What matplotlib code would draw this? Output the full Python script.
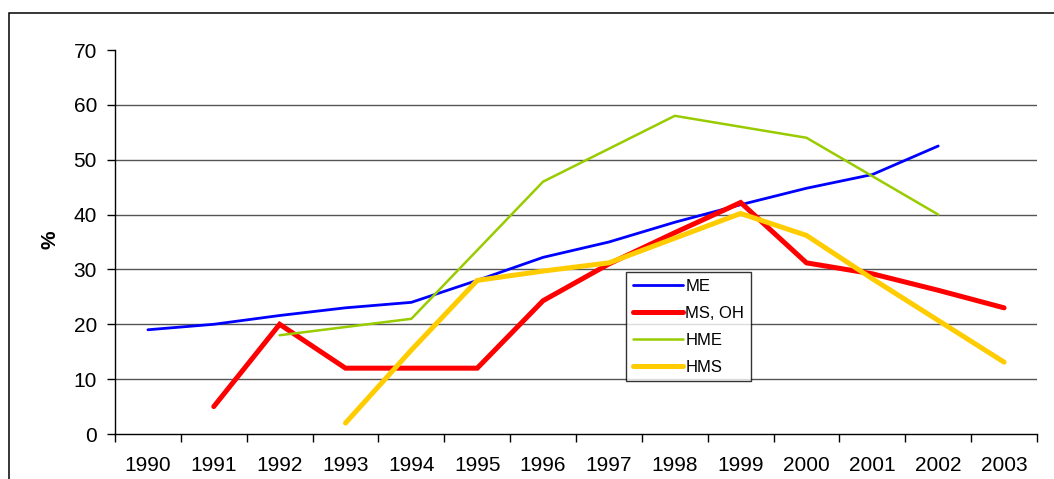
import matplotlib
matplotlib.use('Agg')
import matplotlib.pyplot as plt
from matplotlib.patches import Rectangle

years = ['1990', '1991', '1992', '1993', '1994', '1995', '1996',
         '1997', '1998', '1999', '2000', '2001', '2002', '2003']

# values, None where a series has no point
me = [19, 20, 21.6, 23, 24, 28, 32.2, 35, 38.6, 41.8, 44.8, 47.3, 52.5, None]
ms_oh = [None, 5, 20, 12, 12, 12, 24.3, 31, 36.7, 42.2, 31.2, 29.2, 26.2, 23]
hme = [None, None, 18, 19.5, 21, 33.5, 46, 52, 58, 56, 54, 47, 40, None]
hms = [None, None, None, 2, 15.3, 28, 29.7, 31.2, 35.7, 40.2, 36.2, 28.3, 20.7, 13.1]

series = [('ME', me, '#0000FF', 2.0),
          ('MS, OH', ms_oh, '#FF0000', 3.6),
          ('HME', hme, '#99CC00', 1.8),
          ('HMS', hms, '#FFCC00', 3.6)]

plt.rcParams['font.family'] = ['Liberation Sans', 'DejaVu Sans']


def main():
    fig = plt.figure(figsize=(10.54, 4.79), dpi=100)
    ax = fig.add_axes([115 / 1054, 1 - 434 / 479, 922 / 1054, 384 / 479])

    # cropped outer frame (left and top edges only visible)
    fig.patches.append(Rectangle((9 / 1054, -0.2), 1.2, 1.2 - 12.5 / 479,
                                 transform=fig.transFigure, fill=False,
                                 edgecolor='black', lw=1.1))

    x = list(range(len(years)))
    for name, vals, color, lw in series:
        xs = [i for i, v in zip(x, vals) if v is not None]
        ys = [v for v in vals if v is not None]
        ax.plot(xs, ys, color=color, lw=lw, label=name,
                solid_capstyle='round', solid_joinstyle='miter')

    ax.set_xlim(-0.5, len(years) - 0.5)
    ax.set_ylim(0, 70)
    ax.set_yticks(range(0, 71, 10))
    ax.set_xticks(x)
    ax.set_xticklabels(years)
    ax.set_xticks([i - 0.5 for i in range(len(years) + 1)], minor=True)

    ax.tick_params(axis='x', which='major', length=0, pad=16, labelsize=15)
    ax.tick_params(axis='x', which='minor', length=6, width=1, direction='out')
    ax.tick_params(axis='y', length=6, width=1, pad=7, labelsize=15)

    ax.yaxis.grid(True, color='#555555', lw=1)
    gl = ax.get_ygridlines()
    gl[0].set_visible(False)
    gl[-1].set_visible(False)
    ax.set_axisbelow(True)

    for s in ['top', 'right']:
        ax.spines[s].set_visible(False)
    ax.spines['left'].set_linewidth(1)
    ax.spines['bottom'].set_linewidth(1)

    fig.text(50 / 1054, 1 - 240 / 479, '%', rotation=90, fontsize=15,
             fontweight='bold', ha='center', va='center')

    leg = ax.legend(loc='upper left', bbox_to_anchor=((626 - 115) / 922, (434 - 272) / 384),
                    fontsize=12, frameon=True, fancybox=False, handlelength=3.0,
                    handletextpad=0.15, borderpad=0.4, labelspacing=0.72,
                    borderaxespad=0)
    leg.get_frame().set_edgecolor('black')
    leg.get_frame().set_linewidth(1)

    fig.savefig('out.png', dpi=100)


if __name__ == '__main__':
    main()
